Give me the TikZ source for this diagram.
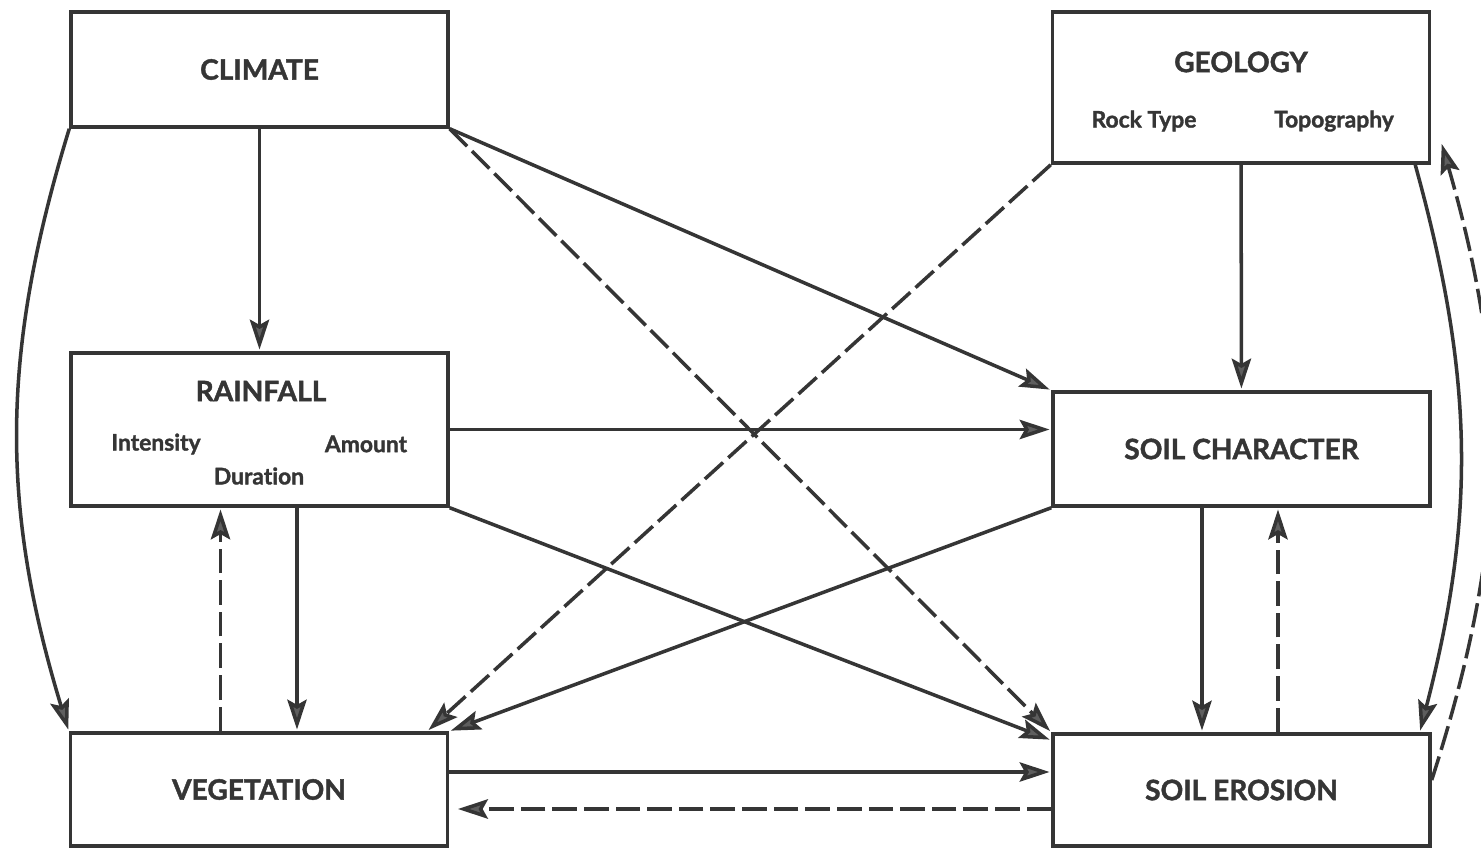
\documentclass[tikz,border=0pt]{standalone}
\usepackage{fontspec}
\setmainfont{Lato}[Ligatures=NoCommon, BoldFeatures={FakeBold=1.5}]
\usepackage{tikz}
\usetikzlibrary{arrows.meta,positioning,calc}
\definecolor{inkgray}{HTML}{353535}
\definecolor{tipgray}{HTML}{5E5E5E}
\tikzset{>={Stealth[length=17pt,width=11pt,inset=3pt,fill=tipgray]}}

\begin{document}
\begin{tikzpicture}[x=0.02cm, y=0.02cm, line width=2pt, draw=inkgray, text=inkgray,
    box/.style={draw, rectangle, minimum width=7.54cm, inner sep=0pt},
    head/.style={font=\bfseries\fontsize{16}{18}\selectfont},
    sub/.style={font=\bfseries\fontsize{13}{15}\selectfont},
    flow/.style={->, shorten >=1pt},
    dflow/.style={->, shorten >=1pt, dash pattern=on 14pt off 4pt}]
    \useasboundingbox (0,0) rectangle (1481,-848);

    % boxes
    \node[box, head, minimum height=2.3cm] (clim) at (259.5,-69.5) {CLIMATE};
    \node[box, minimum height=3.02cm] (geo) at (1241,-87.5) {};
    \node[head] (geoT) at (1241,-62) {GEOLOGY};
    \node[sub] (rock) at (1144,-121) {Rock Type};
    \node[sub] (topo) at (1334,-121) {Topography};
    \node[box, minimum height=3.06cm] (rain) at (259.5,-429.5) {};
    \node[head] (rainT) at (261,-391) {RAINFALL};
    \node[sub] (inten) at (156,-444) {Intensity};
    \node[sub] (amnt) at (366,-444) {Amount};
    \node[sub] (durat) at (259,-476) {Duration};
    \node[box, head, minimum height=2.28cm] (char) at (1241.5,-449) {SOIL CHARACTER};
    \node[box, head, minimum height=2.26cm] (veg) at (259,-789.5) {VEGETATION};
    \node[box, head, minimum height=2.24cm] (eros) at (1241.5,-790) {SOIL EROSION};

    % solid links
    \foreach \s/\t in {clim/rain, geo/char, clim.south east/char.north west, char.south west/veg.north east} {
        \draw[flow] (\s) -- (\t);
    }
    \draw[flow] (rain.east) -- (rain.east -| char.west);
    \draw[flow] (rain.south east) -- ([yshift=-0.16cm]eros.north west);
    \draw[flow] ([xshift=0.75cm]rain.south) -- ([xshift=0.75cm]rain.south |- veg.north);
    \draw[flow] ([xshift=-0.79cm]char.south) -- ([xshift=-0.79cm]char.south |- eros.north);
    \draw[flow] ([yshift=0.35cm]veg.east) -- ([yshift=0.35cm]veg.east -| eros.west);
    \draw[flow] (clim.south west) to[bend right=17] (veg.north west);
    \draw[flow] ([xshift=-0.32cm]geo.south east) to[bend left=15] ([xshift=-0.24cm]eros.north east);

    % dashed links
    \draw[dflow] (clim.south east) -- (eros.north west);
    \draw[dflow] (geo.south west) -- ([xshift=-0.44cm]veg.north east);
    \draw[dflow] ([xshift=-0.77cm]veg.north) -- ([xshift=-0.77cm]veg.north |- rain.south);
    \draw[dflow] ([xshift=0.73cm]eros.north) -- ([xshift=0.73cm]eros.north |- char.south);
    \draw[dflow, shorten >=5pt] ([yshift=-0.38cm]eros.west) -- ([yshift=-0.38cm]eros.west -| veg.east);
    \draw[dflow] ([yshift=0.2cm]eros.east) to[bend right=17] ([xshift=0.2cm,yshift=0.45cm]geo.south east);
\end{tikzpicture}
\end{document}
